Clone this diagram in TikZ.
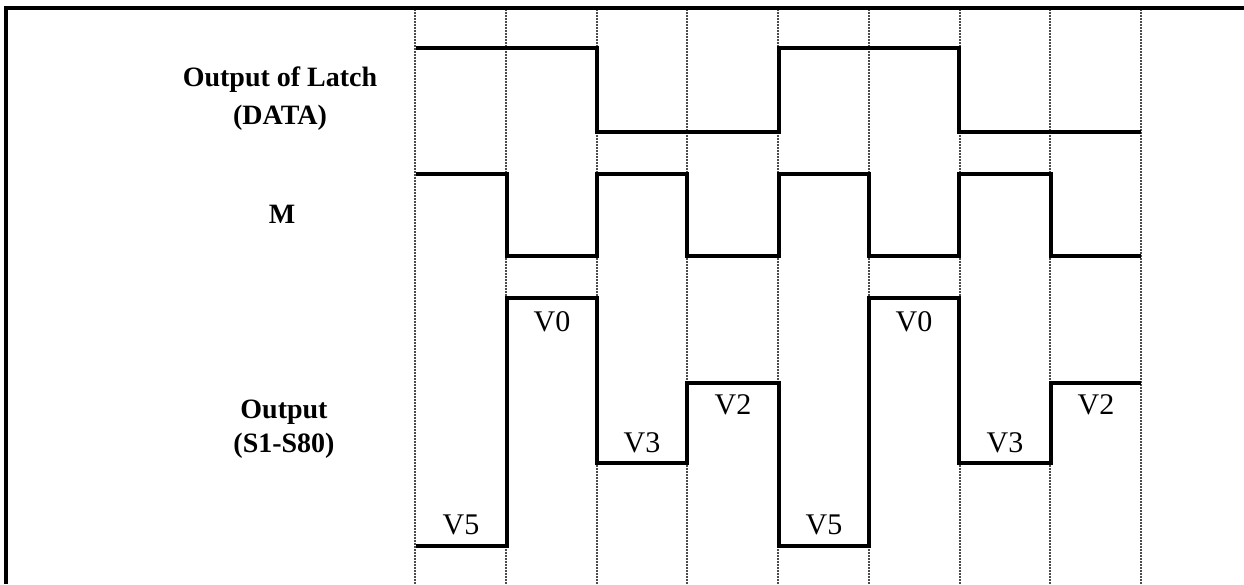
\documentclass[tikz,border=0pt]{standalone}
\usepackage{fontspec}
\setmainfont{Liberation Serif}
\begin{document}
\begin{tikzpicture}[x=1pt,y=-1pt,
  wave/.style={line width=4.5pt, line join=miter, line cap=butt},
  gridline/.style={line width=2pt, black!70, dash pattern=on 2pt off 1pt},
  frameline/.style={line width=4pt},
  lbl/.style={font=\fontsize{28}{38}\selectfont\bfseries, align=center, anchor=base, inner sep=0pt},
  vlbl/.style={font=\fontsize{30}{30}\selectfont, anchor=base, inner sep=0pt}]
\useasboundingbox (0,0) rectangle (1244,584);
% grid
\foreach \i in {0,...,8}
  \draw[gridline] ({415+90.75*\i},9) -- ({415+90.75*\i},584);
% frame
\draw[frameline] (5.5,584) -- (5.5,7.5) -- (1244,7.5);
% labels (base anchor = baseline of the last line)
\node[lbl] (latch) at (280,124) {Output of Latch\\(DATA)};
\node[lbl] (mlbl) at (282,223) {M};
\node[lbl, font=\fontsize{28}{34}\selectfont\bfseries] (outlbl) at (284,452) {Output\\(S1-S80)};
% DATA waveform
\draw[wave] (416,48) -- (597,48) -- (597,132) -- (779,132) -- (779,48) -- (959,48) -- (959,132) -- (1141,132);
% M waveform
\draw[wave] (416,174) -- (507,174) -- (507,256) -- (597,256) -- (597,174) -- (687,174) -- (687,256) -- (779,256) -- (779,174) -- (869,174) -- (869,256) -- (959,256) -- (959,174) -- (1051,174) -- (1051,256) -- (1141,256);
% Output waveform
\draw[wave] (416,546) -- (507,546) -- (507,298) -- (597,298) -- (597,463) -- (687,463) -- (687,383) -- (779,383) -- (779,546) -- (869,546) -- (869,298) -- (959,298) -- (959,463) -- (1051,463) -- (1051,383) -- (1141,383);
% level labels
\node[vlbl] (v5a) at (461,534) {V5};
\node[vlbl] (v0a) at (552,331) {V0};
\node[vlbl] (v3a) at (642,452) {V3};
\node[vlbl] (v2a) at (733,414) {V2};
\node[vlbl] (v5b) at (824,534) {V5};
\node[vlbl] (v0b) at (914,331) {V0};
\node[vlbl] (v3b) at (1005,452) {V3};
\node[vlbl] (v2b) at (1096,414) {V2};
\end{tikzpicture}
\end{document}
